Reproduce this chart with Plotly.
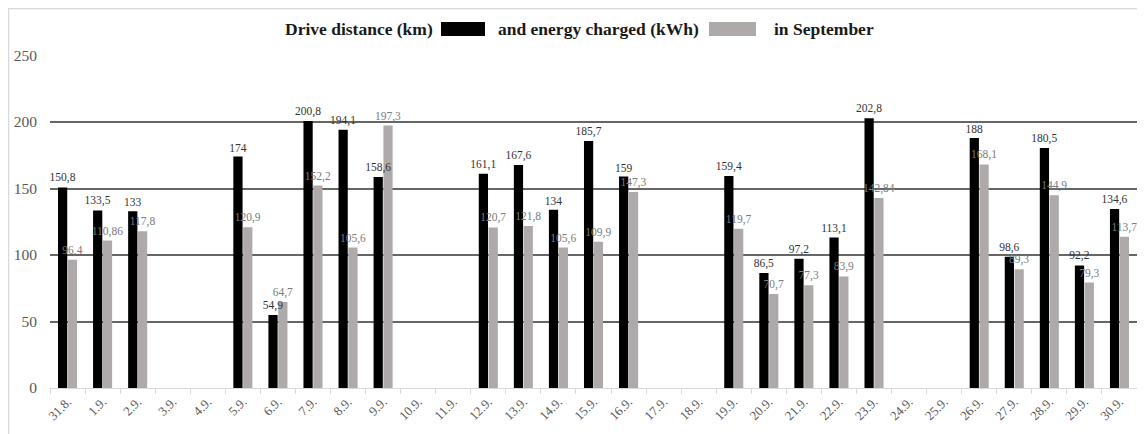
import plotly.graph_objects as go

days = ["31.8.", "1.9.", "2.9.", "3.9.", "4.9.", "5.9.", "6.9.", "7.9.", "8.9.", "9.9.",
        "10.9.", "11.9.", "12.9.", "13.9.", "14.9.", "15.9.", "16.9.", "17.9.", "18.9.", "19.9.",
        "20.9.", "21.9.", "22.9.", "23.9.", "24.9.", "25.9.", "26.9.", "27.9.", "28.9.", "29.9.", "30.9."]

distance_km = [150.8, 133.5, 133, None, None, 174, 54.9, 200.8, 194.1, 158.6,
               None, None, 161.1, 167.6, 134, 185.7, 159, None, None, 159.4,
               86.5, 97.2, 113.1, 202.8, None, None, 188, 98.6, 180.5, 92.2, 134.6]

energy_kwh = [96.4, 110.86, 117.8, None, None, 120.9, 64.7, 152.2, 105.6, 197.3,
              None, None, 120.7, 121.8, 105.6, 109.9, 147.3, None, None, 119.7,
              70.7, 77.3, 83.9, 142.84, None, None, 168.1, 89.3, 144.9, 79.3, 113.7]

y_ticks = [0, 50, 100, 150, 200, 250]


def fmt(v):
    return "" if v is None else f"{v:g}".replace(".", ",")


# page body has an 8px margin, so the figure is 8px smaller than the window
W, H = 1137, 426
ML, MR, MT, MB = 42, 8, 47, 46
PW, PH = W - ML - MR, H - MT - MB

SERIF = "Liberation Serif"

fig = go.Figure()
# bars
fig.add_trace(go.Bar(
    x=days, y=distance_km, name="Drive distance (km)", offsetgroup="dist",
    marker=dict(color="#000000", line=dict(width=0)), hoverinfo="x+y",
))
fig.add_trace(go.Bar(
    x=days, y=energy_kwh, name="Energy charged (kWh)", offsetgroup="energy",
    marker=dict(color="#AEAAAA", line=dict(width=0)), hoverinfo="x+y",
))
# data labels drawn on top of all bars (transparent copies sharing the bar slots)
fig.add_trace(go.Bar(
    x=days, y=distance_km, offsetgroup="dist", showlegend=False, hoverinfo="skip",
    marker=dict(color="rgba(0,0,0,0)", line=dict(width=0)),
    text=[fmt(v) for v in distance_km], textposition="outside", textangle=0,
    constraintext="none", cliponaxis=False,
    textfont=dict(family=SERIF, size=11.5, color="#333333"),
))
fig.add_trace(go.Bar(
    x=days, y=energy_kwh, offsetgroup="energy", showlegend=False, hoverinfo="skip",
    marker=dict(color="rgba(0,0,0,0)", line=dict(width=0)),
    text=[fmt(v) for v in energy_kwh], textposition="outside", textangle=0,
    constraintext="none", cliponaxis=False,
    textfont=dict(family=SERIF, size=11.5, color="#7a7a7a"),
))


def px(x):
    return (x - ML) / PW


def py(y):
    return 1 - (y - MT) / PH


shapes = [
    # outer light frame
    dict(type="rect", xref="paper", yref="paper", x0=px(0.5), x1=px(1160), y0=py(0.5), y1=py(450),
         line=dict(color="#d9d9d9", width=1.5), fillcolor="rgba(0,0,0,0)", layer="below"),
    # legend swatches
    dict(type="rect", xref="paper", yref="paper", x0=px(433), x1=px(477), y0=py(14), y1=py(28),
         line=dict(width=0), fillcolor="#000000"),
    dict(type="rect", xref="paper", yref="paper", x0=px(701), x1=px(748), y0=py(14), y1=py(28),
         line=dict(width=0), fillcolor="#AEAAAA"),
]

title_font = dict(family=SERIF, size=17.5, color="#1a1a1a")
annotations = [
    dict(text="<b>Drive distance (km)</b>", xref="paper", yref="paper", x=px(427), y=py(21),
         xanchor="right", yanchor="middle", showarrow=False, font=title_font),
    dict(text="<b>and energy charged (kWh)</b>", xref="paper", yref="paper", x=px(488), y=py(21),
         xanchor="left", yanchor="middle", showarrow=False, font=title_font),
    dict(text="<b>in September</b>", xref="paper", yref="paper", x=px(764), y=py(21),
         xanchor="left", yanchor="middle", showarrow=False, font=title_font),
]

fig.update_layout(
    width=W, height=H,
    margin=dict(l=ML, r=MR, t=MT, b=MB, pad=0, autoexpand=False),
    paper_bgcolor="white", plot_bgcolor="white",
    barmode="group", bargap=0.44, bargroupgap=0.06,
    showlegend=False,
    shapes=shapes, annotations=annotations,
    font=dict(family=SERIF),
)
fig.update_xaxes(
    type="category", categoryorder="array", categoryarray=days,
    showgrid=False, showline=True, linecolor="#d9d9d9", linewidth=1,
    ticks="outside", tickson="boundaries", ticklen=5, tickcolor="#d9d9d9",
    tickangle=-45, tickfont=dict(family=SERIF, size=13, color="#595959"),
    automargin=False,
)
fig.update_yaxes(
    range=[0, 250.4], tickvals=y_ticks, showgrid=True, gridcolor="#666666", gridwidth=2,
    zeroline=False, showline=False, ticks="", ticklabelstandoff=12,
    tickfont=dict(family=SERIF, size=15.5, color="#595959"),
    automargin=False,
)

fig.write_html("out.html")
